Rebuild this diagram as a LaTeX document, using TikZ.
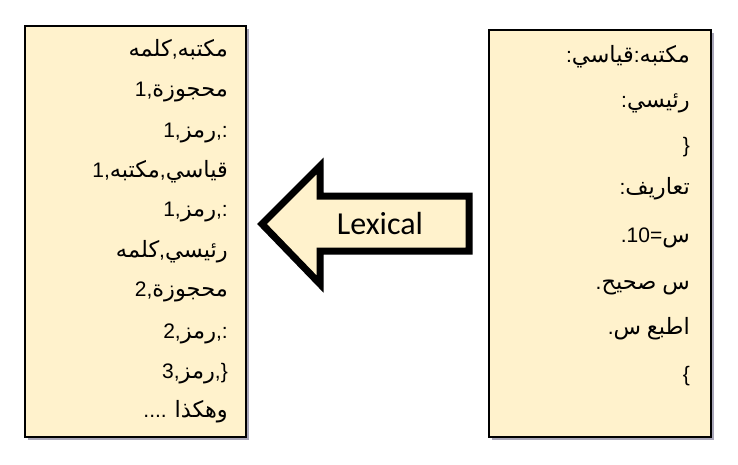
\documentclass[tikz,border=0pt]{standalone}
\usepackage{fontspec}
\setmainfont{Liberation Sans}
\newfontfamily\arabicfont[Script=Arabic]{DejaVu Sans}
\newfontfamily\lexfont{Carlito}
\TeXXeTstate=1
\newcommand\arw[1]{{\arabicfont\fontsize{22.5}{26}\selectfont\beginR #1\endR}}
\usetikzlibrary{shadows}
\definecolor{cream}{HTML}{FFF2CC}
\definecolor{shadowc}{HTML}{A8A6B8}
\tikzset{
  box/.style={draw=black, line width=2pt, fill=cream, anchor=north west, inner sep=0pt,
    drop shadow={shadow xshift=3pt, shadow yshift=-3pt, fill=shadowc, opacity=1}},
  codeline/.style={anchor=east, inner sep=0pt, text height=15pt, text depth=6pt,
    font=\fontsize{21}{24}\selectfont},
  blockarrow/.style={draw=black, line width=7pt, fill=cream, line join=miter,
    drop shadow={shadow xshift=3pt, shadow yshift=-3pt, fill=shadowc, opacity=1}}
}
\begin{document}
\begin{tikzpicture}[x=1pt,y=-1pt]
\useasboundingbox (0,0) rectangle (738,464);
% boxes
\node[box, minimum width=221pt, minimum height=411pt] (L) at (24,25) {};
\node[box, minimum width=222pt, minimum height=407pt] (R) at (488,29) {};
% arrow
\draw[blockarrow] (262,224) -- (320,166) -- (320,196) -- (469,196) -- (469,251)
  -- (320,251) -- (320,284) -- cycle;
\node[font=\lexfont\fontsize{32}{34}\selectfont, inner sep=0pt] (lex) at (380,224) {Lexical};
% left text
\node[codeline] (l1) at (228,52) {\arw{كلمه},\arw{مكتبه}};
\node[codeline] (l2) at (228,92) {1,\arw{محجوزة}};
\node[codeline] (l3) at (228,133) {1,\arw{رمز},:};
\node[codeline] (l4) at (228,173) {1,\arw{مكتبه},\arw{قياسي}};
\node[codeline] (l5) at (228,212) {1,\arw{رمز},:};
\node[codeline] (l6) at (228,253) {\arw{كلمه},\arw{رئيسي}};
\node[codeline] (l7) at (228,292) {2,\arw{محجوزة}};
\node[codeline] (l8) at (228,334) {2,\arw{رمز},:};
\node[codeline] (l9) at (228,374) {3,\arw{رمز},\char"007D};
\node[codeline] (l10) at (228,413) {.... \arw{وهكذا}};
% right text
\node[codeline] (r1) at (690,58) {:\arw{قياسي}:\arw{مكتبه}};
\node[codeline] (r2) at (690,103) {:\arw{رئيسي}};
\node[codeline] (r3) at (690,148) {\char"007D};
\node[codeline] (r4) at (690,190) {:\arw{تعاريف}};
\node[codeline] (r5) at (690,238) {.10=\arw{س}};
\node[codeline] (r6) at (690,285) {.\arw{صحيح} \arw{س}};
\node[codeline] (r7) at (690,330) {.\arw{س} \arw{اطبع}};
\node[codeline] (r8) at (690,377) {\char"007B};
\end{tikzpicture}
\end{document}
